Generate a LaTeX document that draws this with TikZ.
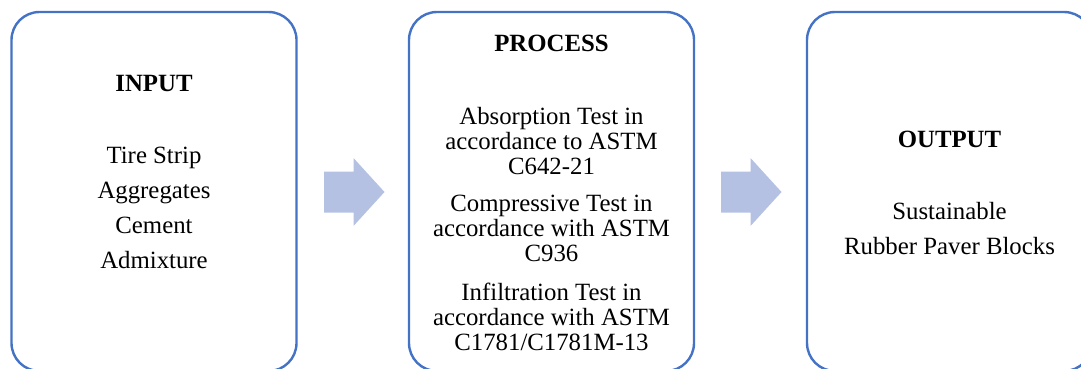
\documentclass[tikz,border=0pt]{standalone}
\usepackage{fontspec}
\setmainfont{Liberation Serif}
\definecolor{boxline}{HTML}{4472C4}
\definecolor{arrowfill}{HTML}{B4C1E3}
\begin{document}
\begin{tikzpicture}[x=1pt, y=-1pt,
  stage/.style={draw=boxline, line width=2.4pt, rounded corners=28pt,
    minimum width=285pt, minimum height=359pt, inner sep=0pt},
  txt/.style={anchor=base, inner sep=0pt, font=\fontsize{24.8}{30}\selectfont},
  head/.style={txt, font=\fontsize{24.8}{30}\selectfont\bfseries},
  flow/.style={fill=arrowfill}]
\useasboundingbox (0,0) rectangle (1081,369);

% three stage boxes (running past the lower edge)
\node[stage] (input)   at (154,191.5)   {};
\node[stage] (process) at (551.5,191.5) {};
\node[stage] (output)  at (949.5,191.5) {};

% input
\node[head] (inT) at (154,92)  {INPUT};
\node[txt]  (in1) at (154,163) {Tire Strip};
\node[txt]  (in2) at (154,198) {Aggregates};
\node[txt]  (in3) at (154,233) {Cement};
\node[txt]  (in4) at (154,268) {Admixture};

% process
\node[head] (prT) at (551.5,52)  {PROCESS};
\node[txt]  (pa1) at (551.5,124) {Absorption Test in};
\node[txt]  (pa2) at (551.5,149) {accordance to ASTM};
\node[txt]  (pa3) at (551.5,174) {C642-21};
\node[txt]  (pb1) at (551.5,211) {Compressive Test in};
\node[txt]  (pb2) at (551.5,236) {accordance with ASTM};
\node[txt]  (pb3) at (551.5,261) {C936};
\node[txt]  (pc1) at (551.5,300) {Infiltration Test in};
\node[txt]  (pc2) at (551.5,325) {accordance with ASTM};
\node[txt]  (pc3) at (551.5,350) {C1781/C1781M-13};

% output
\node[head] (ouT) at (949.5,147) {OUTPUT};
\node[txt]  (ou1) at (949.5,219) {Sustainable};
\node[txt]  (ou2) at (949.5,254) {Rubber Paver Blocks};

% block arrows between the stages
\coordinate (a1) at (324,192);
\coordinate (a2) at (721,192);
\foreach \a in {a1,a2}{
  \fill[flow] (\a) ++(0,-20.5) -- ++(29.5,0) -- ++(0,-13.5) -- ++(31,34)
    -- ++(-31,34) -- ++(0,-13.5) -- ++(-29.5,0) -- cycle;
}
\end{tikzpicture}
\end{document}
